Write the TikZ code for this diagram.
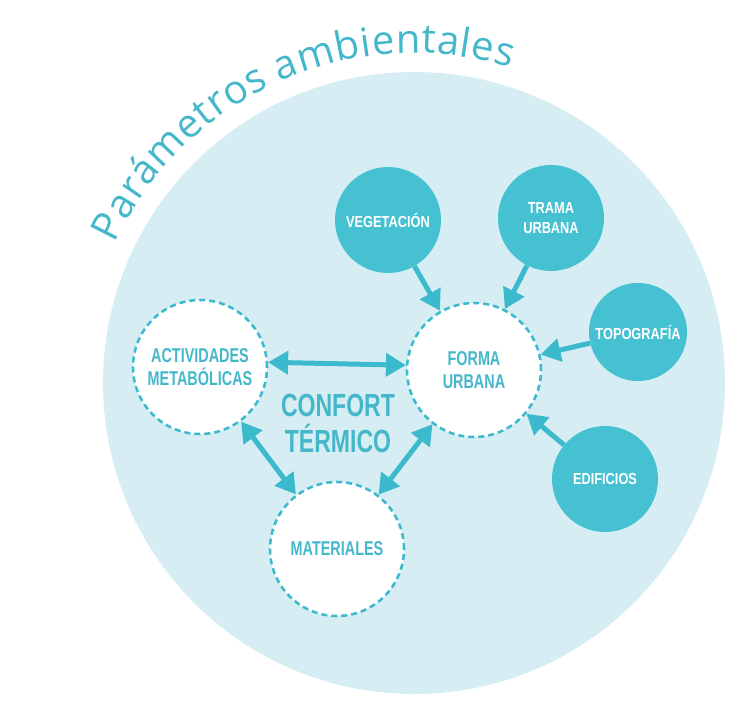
\documentclass[tikz,border=0pt]{standalone}
\usepackage{fontspec}
\setmainfont{Liberation Sans}
\newfontfamily\labelfont[FakeStretch=0.8]{Liberation Sans}
\newfontfamily\corefont[FakeStretch=0.72]{Liberation Sans}
\newfontfamily\confortfont[FakeStretch=0.72]{Liberation Sans}
\newfontfamily\titlefont{Open Sans}
\usepackage{xcolor}
\usepackage{tikz}
\usetikzlibrary{positioning, arrows.meta, decorations.text}

\definecolor{envfill}{HTML}{D6EEF3}
\definecolor{factorfill}{HTML}{45C1D2}
\definecolor{linecyan}{HTML}{3BBACD}
\definecolor{textcyan}{HTML}{45B7CA}

\begin{document}
\begin{tikzpicture}[
    x=0.75pt, y=0.75pt,
    env/.style = {
        circle, fill=envfill, minimum size=466.5pt, inner sep=0pt
    },
    core/.style = {
        circle, draw=linecyan, line width=1.9pt, dash pattern=on 4.5pt off 3pt,
        fill=white, minimum size=100.5pt, inner sep=0pt, align=center,
        font=\corefont\bfseries\fontsize{15}{17.25}\selectfont, text=textcyan
    },
    factor/.style = {
        circle, fill=factorfill, minimum size=79.5pt, inner sep=0pt, align=center,
        font=\labelfont\bfseries\fontsize{12}{15.5}\selectfont, text=white
    },
    arrow/.style = {
        -{Triangle[length=15pt, width=17pt]}, line width=3.75pt, draw=linecyan
    },
    biarrow/.style = {
        arrow, {Triangle[length=15pt, width=17pt]}-{Triangle[length=15pt, width=17pt]}
    }
]
\useasboundingbox (0,0) rectangle (733,-704);

% Environment ── big circle and its curved title
\node[env] (amb) at (414,-383) {};
\path[decorate, decoration={text along path, text align=fit to path,
    text={|\titlefont\fontsize{30}{36}\selectfont\color{textcyan}|Parámetros ambientales}}]
    (414,-383) ++(155:330) arc[start angle=155, end angle=73, radius=330];

% Core ── thermal comfort factors
\node[core] (act)   at (200,-367) {ACTIVIDADES\\METABÓLICAS};
\node[core] (forma) at (474,-370) {FORMA\\URBANA};
\node[core] (mat)   at (337,-549) {MATERIALES};
\node[font=\confortfont\bfseries\fontsize{24}{27}\selectfont, text=textcyan, align=center]
    (conf) at (338,-423) {CONFORT\\TÉRMICO};

% Factors acting on the urban form
\node[factor] (veg)   at (388,-220) {VEGETACIÓN};
\node[factor] (trama) at (551,-218) {TRAMA\\URBANA};
\node[factor, minimum size=73.5pt] (topo) at (638,-332) {TOPOGRAFÍA};
\node[factor] (edif)  at (605,-479) {EDIFICIOS};

% One-way arrows into the urban form
\draw[arrow] (veg)   -- (forma);
\draw[arrow] (trama) -- (forma);
\draw[arrow] (topo)  -- (forma);
\draw[arrow] (edif)  -- (forma);

% Two-way arrows between core circles
\draw[biarrow] (act.4) -- (forma.176);
\draw[biarrow] (act)   -- (mat);
\draw[biarrow] (forma) -- (mat);

\end{tikzpicture}
\end{document}
